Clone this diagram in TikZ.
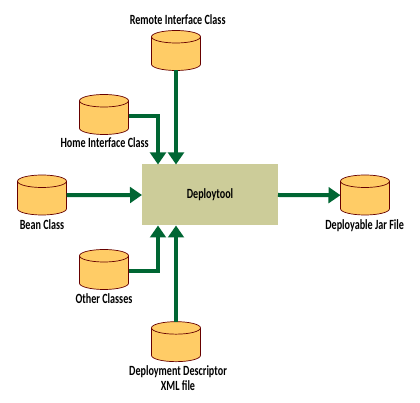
\documentclass[tikz,border=0pt]{standalone}
\usepackage{fontspec}
\setmainfont{Carlito}[FakeStretch=0.72]
\usetikzlibrary{arrows.meta,positioning,shapes.geometric}
\definecolor{jarfill}{HTML}{FFCC66}
\definecolor{jarline}{HTML}{660000}
\definecolor{toolfill}{HTML}{CCCC99}
\definecolor{flowgreen}{HTML}{006633}

\begin{document}
\begin{tikzpicture}[
  every node/.style={font=\bfseries\fontsize{12}{12.5}\selectfont},
  store/.style={draw=jarline, fill=jarfill, line width=0.6pt, cylinder, shape border rotate=90, aspect=1.25, minimum width=1.47cm, minimum height=1.2cm, inner sep=0.15cm, outer sep=0pt, anchor=shape center},
  tool/.style={fill=toolfill, minimum width=4.08cm, minimum height=1.83cm, outer sep=0pt},
  arrow/.style={-{Triangle[width=0.47cm,length=0.36cm]}, line width=0.12cm, draw=flowgreen}
]
\useasboundingbox (0,0) rectangle (12.6,12.09);
\node[tool] (deploytool) at (6.3,6.24) {Deploytool};

\node[store] (remote) at (5.28,10.575) {};
\node[store] (home) at (3.12,8.655) {};
\node[store] (bean) at (1.26,6.24) {};
\node[store] (other) at (3.12,4.005) {};
\node[store] (descriptor) at (5.28,1.84) {};
\node[store] (jarfile) at (10.95,6.24) {};

\node (remotelabel) at (5.33,11.5) {Remote Interface Class};
\node (homelabel) at (3.14,7.8) {Home Interface Class};
\node (beanlabel) at (1.26,5.34) {Bean Class};
\node (otherlabel) at (3.12,3.13) {Other Classes};
\node[align=center] (descriptorlabel) at (5.34,0.75) {Deployment Descriptor\\XML file};
\node (jarlabel) at (10.94,5.32) {Deployable Jar File};

\draw[arrow] (remote.south) -- (remote.south |- deploytool.north);
\draw[arrow] ([yshift=0.1cm]home.east) -| ([xshift=0.48cm]deploytool.north west);
\draw[arrow] ([yshift=0.15cm]bean.east) -- (deploytool.west);
\draw[arrow] ([yshift=0.1cm]other.east) -| ([xshift=0.48cm]deploytool.south west);
\draw[arrow] (descriptor.north) -- (descriptor.north |- deploytool.south);
\draw[arrow] (deploytool.east) -- ([yshift=0.15cm]jarfile.west);
\end{tikzpicture}
\end{document}
